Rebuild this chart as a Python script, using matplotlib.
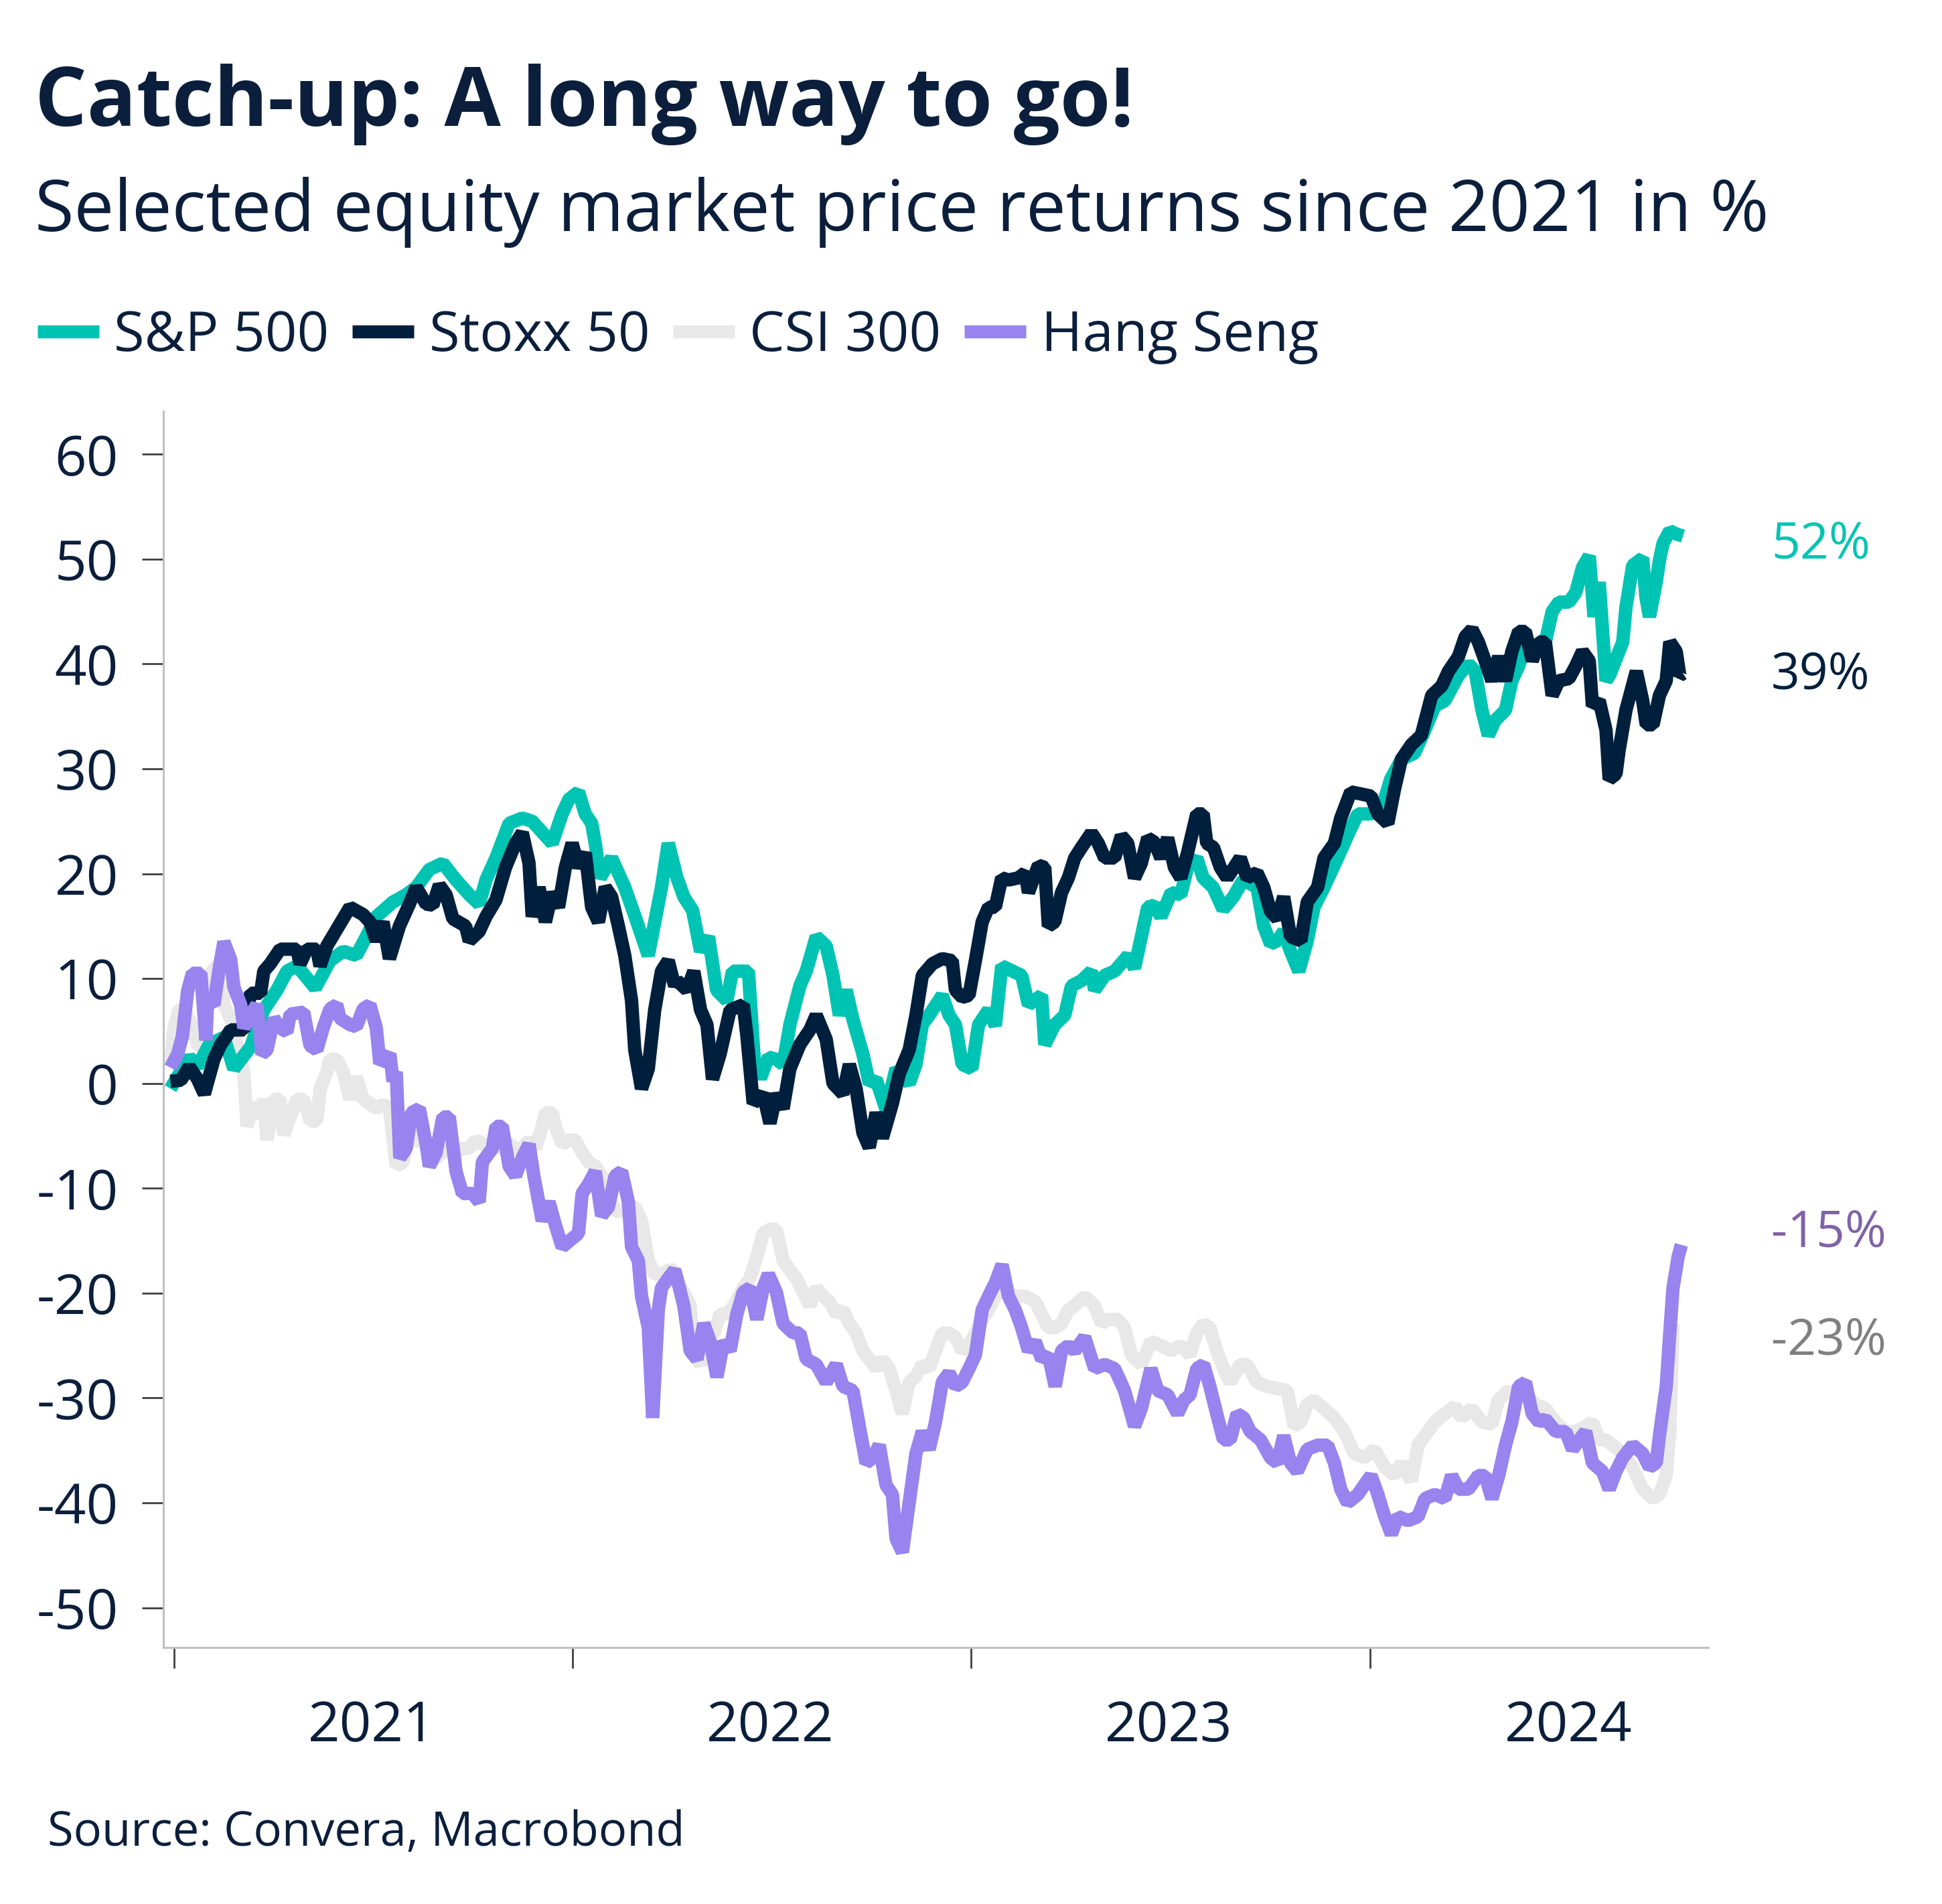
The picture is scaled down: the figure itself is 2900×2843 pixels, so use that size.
import numpy as np
import pandas as pd
import matplotlib
matplotlib.use('Agg')
import matplotlib.pyplot as plt
import matplotlib.dates as mdates
from matplotlib.lines import Line2D

plt.rcParams['font.family'] = ['Open Sans', 'DejaVu Sans']
plt.rcParams['axes.unicode_minus'] = False

navy = '#001F3D'
teal = '#00C4B3'
grey = '#E8E8E8'
purple = '#9784EE'
text_c = '#0B1F3C'

# values: time in years since 1 Jan 2021, return in %
spx_t = [-0.009, 0.038, 0.059, 0.088, 0.125, 0.15, 0.192, 0.225, 0.258, 0.283, 0.308, 0.354,
         0.391, 0.424, 0.457, 0.482, 0.507, 0.549, 0.582, 0.607, 0.64, 0.674, 0.707, 0.74,
         0.765, 0.782, 0.807, 0.84, 0.873, 0.898, 0.948, 0.973, 0.99, 1.014, 1.031, 1.047,
         1.056, 1.068, 1.097, 1.13, 1.156, 1.189, 1.222, 1.239, 1.261, 1.278, 1.3, 1.32,
         1.34, 1.36, 1.386, 1.40, 1.44, 1.455, 1.47, 1.49, 1.51, 1.527, 1.544, 1.569,
         1.585, 1.61, 1.635, 1.652, 1.668, 1.685, 1.702, 1.727, 1.743, 1.76, 1.785, 1.81,
         1.843, 1.86, 1.876, 1.893, 1.926, 1.943, 1.959, 1.976, 2.0, 2.017, 2.042, 2.059,
         2.075, 2.125, 2.142, 2.175, 2.183, 2.208, 2.233, 2.25, 2.275, 2.3, 2.308, 2.333,
         2.358, 2.392, 2.408, 2.425, 2.441, 2.458, 2.474, 2.5, 2.524, 2.541, 2.564, 2.58,
         2.605, 2.63, 2.656, 2.68, 2.715, 2.732, 2.749, 2.766, 2.782, 2.799, 2.82, 2.841,
         2.858, 2.883, 2.917, 2.95, 2.968, 3.001, 3.018, 3.035, 3.05, 3.077, 3.11, 3.136,
         3.161, 3.186, 3.22, 3.245, 3.262, 3.279, 3.295, 3.312, 3.338, 3.354, 3.371, 3.388,
         3.413, 3.438, 3.455, 3.472, 3.497, 3.514, 3.531, 3.548, 3.56, 3.573, 3.59, 3.60,
         3.632, 3.64, 3.657, 3.682, 3.69, 3.699, 3.716, 3.724, 3.733, 3.75, 3.766, 3.783]
spx_v = [-0.5, 2.5, 1.6, 3.7, 4.4, 1.4, 3.5, 7.0, 8.9, 10.7, 11.2, 9.1,
         11.7, 12.6, 12.2, 14.0, 15.9, 17.3, 18.0, 18.7, 20.4, 21.0, 19.4, 18.0,
         17.1, 19.4, 21.5, 24.8, 25.3, 25.0, 22.9, 25.7, 27.1, 27.8, 25.7, 24.8,
         22.9, 19.6, 21.5, 18.7, 15.9, 12.2, 18.7, 22.9, 19.6, 17.8, 16.5, 12.6,
         14.0, 8.9, 7.9, 10.7, 10.7, 2.0, 0.5, 2.5, 2.3, 1.8, 5.6, 9.3,
         10.7, 14.0, 13.1, 10.3, 6.5, 8.9, 6.1, 2.8, 0.0, 0.4, -2.5, 1.4,
         0.0, 1.8, 5.6, 6.5, 8.4, 6.5, 5.6, 1.8, 1.4, 5.6, 7.0, 5.5,
         11.2, 10.3, 7.5, 8.4, 3.7, 5.6, 6.5, 9.3, 9.8, 10.7, 8.9, 10.3,
         10.7, 12.2, 11.0, 14.0, 16.8, 17.0, 15.9, 18.2, 18.0, 20.6, 21.5, 19.6,
         18.7, 16.6, 17.8, 19.4, 18.7, 15.0, 13.3, 13.6, 14.5, 12.6, 10.7, 13.6,
         16.8, 18.7, 21.5, 24.3, 25.7, 25.7, 26.2, 27.1, 29.0, 30.9, 31.5, 33.7,
         36.0, 36.5, 38.9, 40.0, 39.3, 35.6, 33.2, 34.6, 35.6, 38.4, 39.8, 41.7,
         41.7, 42.1, 45.0, 45.9, 45.9, 46.8, 49.2, 50.3, 44.5, 47.8, 38.4, 39.0,
         42.1, 45.4, 49.4, 50.1, 46.4, 44.5, 47.8, 49.9, 51.5, 52.7, 52.4, 52.2]

sx5e_t = [-0.009, 0.017, 0.038, 0.059, 0.076, 0.1, 0.117, 0.13, 0.142, 0.175, 0.192, 0.217,
          0.225, 0.241, 0.266, 0.308, 0.316, 0.333, 0.358, 0.366, 0.383, 0.408, 0.441, 0.474,
          0.491, 0.507, 0.524, 0.54, 0.565, 0.59, 0.607, 0.632, 0.649, 0.665, 0.682, 0.699,
          0.731, 0.74, 0.765, 0.782, 0.807, 0.831, 0.856, 0.873, 0.89, 0.898, 0.915, 0.931,
          0.948, 0.964, 0.981, 0.998, 1.014, 1.031, 1.047, 1.064, 1.081, 1.097, 1.114, 1.13,
          1.147, 1.155, 1.172, 1.189, 1.205, 1.222, 1.239, 1.255, 1.261, 1.286, 1.303, 1.32,
          1.336, 1.35, 1.369, 1.394, 1.427, 1.436, 1.452, 1.477, 1.494, 1.51, 1.527, 1.544,
          1.569, 1.594, 1.61, 1.635, 1.652, 1.677, 1.693, 1.71, 1.727, 1.743, 1.76, 1.776,
          1.801, 1.818, 1.843, 1.86, 1.876, 1.901, 1.926, 1.951, 1.959, 1.976, 1.993, 2.009,
          2.026, 2.042, 2.059, 2.075, 2.092, 2.117, 2.134, 2.142, 2.167, 2.183, 2.192, 2.208,
          2.225, 2.242, 2.258, 2.275, 2.3, 2.317, 2.333, 2.358, 2.375, 2.391, 2.408, 2.425,
          2.441, 2.458, 2.474, 2.491, 2.508, 2.524, 2.541, 2.564, 2.58, 2.589, 2.606, 2.623,
          2.64, 2.656, 2.673, 2.69, 2.715, 2.732, 2.749, 2.766, 2.782, 2.799, 2.825, 2.841,
          2.867, 2.883, 2.909, 2.925, 2.95, 2.976, 3.001, 3.018, 3.043, 3.06, 3.077, 3.102,
          3.127, 3.153, 3.178, 3.195, 3.22, 3.237, 3.254, 3.27, 3.287, 3.304, 3.321, 3.338,
          3.354, 3.371, 3.388, 3.405, 3.422, 3.438, 3.455, 3.472, 3.497, 3.514, 3.531, 3.548,
          3.556, 3.573, 3.59, 3.598, 3.615, 3.623, 3.64, 3.666, 3.682, 3.691, 3.708, 3.724,
          3.741, 3.75, 3.766, 3.775, 3.783]
sx5e_v = [0.2, 0.3, 1.6, 0.4, -1.0, 2.3, 3.7, 4.4, 5.1, 5.1, 8.6, 8.6,
          10.7, 11.4, 12.8, 12.8, 11.4, 12.8, 12.8, 11.2, 13.1, 14.7, 16.8, 16.1,
          15.4, 13.6, 15.4, 11.9, 15.0, 17.1, 18.7, 17.1, 17.0, 18.9, 18.0, 15.7,
          15.0, 13.6, 14.5, 15.9, 17.5, 20.6, 22.9, 23.9, 21.0, 15.9, 18.7, 15.4,
          18.2, 16.8, 20.6, 22.9, 20.6, 22.0, 16.8, 15.4, 18.7, 17.8, 15.0, 12.2,
          7.9, 3.2, -0.5, 1.4, 7.0, 10.7, 11.7, 9.3, 9.8, 8.9, 10.7, 7.0,
          5.6, 0.4, 2.8, 7.0, 7.5, 4.6, -1.9, -1.0, -3.8, -1.0, -2.4, 1.4,
          3.7, 5.1, 6.5, 4.2, 0.0, -1.0, 1.8, -0.5, -4.7, -6.1, -2.8, -5.2,
          -1.9, 0.9, 3.2, 6.5, 10.3, 11.4, 11.9, 11.7, 8.9, 8.2, 8.4, 11.7,
          15.4, 16.8, 16.8, 19.6, 19.4, 19.6, 20.1, 18.2, 20.8, 20.6, 15.0, 15.4,
          18.2, 19.6, 21.5, 22.5, 23.9, 22.9, 21.5, 21.5, 23.6, 22.9, 19.6, 21.0,
          23.4, 23.0, 21.5, 23.4, 20.6, 19.6, 22.0, 25.7, 25.7, 22.9, 22.5, 20.6,
          19.6, 20.5, 21.5, 19.6, 20.1, 18.7, 16.4, 15.7, 17.8, 14.0, 13.6, 17.3,
          18.7, 21.5, 22.9, 25.3, 27.8, 27.6, 27.4, 25.7, 24.8, 28.1, 30.9, 32.3,
          33.2, 37.0, 37.9, 39.3, 40.7, 42.6, 43.3, 42.1, 40.3, 38.4, 40.7, 38.4,
          41.2, 43.1, 43.1, 40.3, 42.1, 42.1, 37.0, 38.4, 38.6, 39.8, 41.2, 40.3,
          36.0, 36.5, 33.7, 29.0, 29.5, 31.8, 35.6, 39.3, 36.5, 34.2, 34.2, 37.0,
          38.4, 42.1, 41.2, 38.9, 39.1]

csi_t = [-0.009, 0.0, 0.013, 0.025, 0.042, 0.059, 0.075, 0.092, 0.108, 0.121, 0.125, 0.142,
         0.158, 0.175, 0.183, 0.2, 0.216, 0.225, 0.233, 0.25, 0.266, 0.275, 0.291, 0.308,
         0.325, 0.341, 0.358, 0.366, 0.383, 0.391, 0.408, 0.424, 0.441, 0.457, 0.474, 0.491,
         0.507, 0.524, 0.54, 0.557, 0.574, 0.59, 0.607, 0.624, 0.64, 0.657, 0.674, 0.69,
         0.707, 0.723, 0.74, 0.757, 0.773, 0.79, 0.807, 0.823, 0.84, 0.856, 0.873, 0.89,
         0.906, 0.923, 0.931, 0.948, 0.956, 0.973, 0.99, 1.006, 1.023, 1.039, 1.056, 1.072,
         1.089, 1.106, 1.122, 1.139, 1.156, 1.172, 1.189, 1.205, 1.222, 1.239, 1.255, 1.261,
         1.278, 1.294, 1.303, 1.32, 1.336, 1.353, 1.369, 1.386, 1.403, 1.427, 1.444, 1.461,
         1.477, 1.494, 1.51, 1.527, 1.544, 1.56, 1.577, 1.594, 1.61, 1.627, 1.643, 1.66,
         1.677, 1.693, 1.71, 1.727, 1.743, 1.76, 1.776, 1.793, 1.81, 1.826, 1.843, 1.859,
         1.876, 1.893, 1.909, 1.926, 1.943, 1.959, 1.976, 1.993, 2.009, 2.026, 2.042, 2.059,
         2.076, 2.092, 2.109, 2.134, 2.159, 2.175, 2.192, 2.208, 2.225, 2.242, 2.258, 2.283,
         2.308, 2.325, 2.341, 2.366, 2.383, 2.4, 2.425, 2.449, 2.474, 2.5, 2.524, 2.547,
         2.564, 2.581, 2.597, 2.614, 2.631, 2.648, 2.673, 2.69, 2.715, 2.74, 2.766, 2.791,
         2.808, 2.825, 2.841, 2.858, 2.883, 2.909, 2.934, 2.959, 2.984, 3.01, 3.035, 3.06,
         3.077, 3.102, 3.119, 3.136, 3.161, 3.186, 3.211, 3.228, 3.253, 3.279, 3.304, 3.32,
         3.346, 3.363, 3.388, 3.413, 3.438, 3.464, 3.489, 3.514, 3.539, 3.556, 3.573, 3.59,
         3.607, 3.632, 3.657, 3.682, 3.708, 3.724, 3.741, 3.75, 3.758]
csi_v = [1.9, 5.3, 7.1, 7.1, 5.8, 3.6, 3.6, 10.5, 11.3, 11.3, 7.5, 6.2,
         3.6, 1.1, -4.1, -1.9, -3.2, -1.5, -5.4, -1.5, -1.5, -4.9, -3.2, -1.5,
         -1.5, -3.6, -3.6, -0.6, 1.1, 2.3, 2.3, 1.1, -1.5, 0.6, -1.5, -1.9,
         -2.4, -2.0, -2.4, -7.9, -7.5, -4.1, -5.8, -4.9, -5.8, -7.1, -6.6, -6.2,
         -6.6, -6.2, -6.2, -5.4, -5.8, -5.8, -6.2, -5.8, -5.8, -6.2, -6.2, -5.4,
         -6.2, -4.1, -2.8, -2.8, -4.1, -5.8, -5.4, -5.4, -6.6, -7.5, -7.9, -8.8,
         -10.5, -12.2, -12.2, -11.8, -11.8, -13.1, -16.9, -18.2, -18.2, -17.8, -17.8, -19.0,
         -19.9, -21.2, -25.9, -26.8, -24.6, -23.8, -22.0, -22.0, -21.2, -19.5, -18.6, -16.5,
         -14.3, -13.9, -13.9, -16.9, -17.8, -18.6, -19.9, -21.2, -19.5, -20.3, -20.8, -22.0,
         -21.6, -22.9, -23.8, -25.5, -26.3, -27.2, -26.3, -27.2, -29.3, -31.5, -28.5, -28.0,
         -26.8, -27.2, -25.5, -23.8, -23.8, -24.2, -25.5, -25.0, -23.8, -22.5, -21.6, -20.3,
         -19.5, -19.9, -20.3, -20.3, -20.8, -22.0, -23.3, -23.3, -22.9, -21.6, -21.2, -20.3,
         -21.2, -22.9, -22.5, -22.5, -23.3, -25.9, -26.8, -24.6, -25.0, -25.5, -25.0, -25.9,
         -23.8, -22.9, -23.3, -25.5, -27.2, -28.5, -26.8, -26.8, -28.5, -28.9, -29.1, -29.3,
         -32.7, -32.3, -30.6, -30.2, -31.0, -31.9, -33.2, -35.3, -35.7, -34.9, -36.6, -37.4,
         -36.2, -37.9, -34.5, -33.6, -32.3, -31.5, -30.8, -31.9, -31.0, -32.3, -32.5, -30.2,
         -29.3, -29.7, -29.7, -30.6, -31.0, -32.3, -33.2, -33.2, -32.7, -32.3, -34.0, -34.0,
         -34.5, -35.3, -36.6, -38.7, -39.6, -39.2, -37.4, -33.2, -23.0]

hsi_t = [-0.009, 0.009, 0.021, 0.034, 0.046, 0.067, 0.08, 0.084, 0.1, 0.113, 0.125, 0.142,
         0.15, 0.167, 0.175, 0.192, 0.208, 0.22, 0.233, 0.25, 0.266, 0.283, 0.291, 0.325,
         0.341, 0.358, 0.374, 0.391, 0.408, 0.416, 0.441, 0.457, 0.474, 0.491, 0.507, 0.516,
         0.541, 0.549, 0.557, 0.566, 0.582, 0.595, 0.615, 0.632, 0.64, 0.657, 0.674, 0.69,
         0.707, 0.723, 0.748, 0.765, 0.773, 0.798, 0.807, 0.823, 0.84, 0.856, 0.873, 0.89,
         0.902, 0.923, 0.94, 0.956, 0.973, 0.998, 1.014, 1.023, 1.039, 1.056, 1.072, 1.089,
         1.106, 1.122, 1.139, 1.147, 1.164, 1.172, 1.189, 1.2, 1.214, 1.222, 1.239, 1.255,
         1.261, 1.278, 1.294, 1.311, 1.328, 1.344, 1.361, 1.378, 1.394, 1.411, 1.427, 1.444,
         1.461, 1.477, 1.49, 1.51, 1.527, 1.552, 1.569, 1.585, 1.61, 1.635, 1.66, 1.677,
         1.702, 1.718, 1.735, 1.752, 1.768, 1.785, 1.801, 1.81, 1.826, 1.843, 1.86, 1.876,
         1.893, 1.909, 1.926, 1.943, 1.959, 1.976, 1.993, 2.009, 2.026, 2.042, 2.059, 2.076,
         2.092, 2.109, 2.125, 2.142, 2.159, 2.175, 2.192, 2.209, 2.225, 2.242, 2.258, 2.283,
         2.308, 2.333, 2.358, 2.383, 2.408, 2.425, 2.449, 2.466, 2.491, 2.516, 2.532, 2.547,
         2.564, 2.581, 2.597, 2.614, 2.631, 2.648, 2.665, 2.682, 2.698, 2.724, 2.749, 2.766,
         2.782, 2.799, 2.816, 2.841, 2.867, 2.892, 2.909, 2.925, 2.942, 2.968, 2.984, 3.001,
         3.018, 3.035, 3.052, 3.068, 3.094, 3.119, 3.136, 3.161, 3.186, 3.203, 3.22, 3.245,
         3.27, 3.287, 3.304, 3.321, 3.338, 3.354, 3.371, 3.388, 3.405, 3.422, 3.438, 3.464,
         3.489, 3.506, 3.523, 3.539, 3.556, 3.581, 3.598, 3.615, 3.632, 3.657, 3.682, 3.699,
         3.716, 3.724, 3.741, 3.75, 3.758, 3.771, 3.779]
hsi_v = [1.5, 2.8, 4.5, 8.8, 10.5, 10.5, 4.1, 7.9, 7.5, 10.9, 13.5, 11.8,
         9.2, 7.5, 5.3, 6.6, 7.5, 2.8, 3.2, 6.2, 5.3, 4.9, 6.6, 6.8,
         3.6, 3.2, 5.3, 7.1, 7.5, 6.2, 5.6, 5.4, 7.1, 7.5, 5.3, 1.9,
         2.8, 0.2, 1.1, -7.1, -6.2, -2.8, -2.4, -5.8, -7.9, -6.6, -3.2, -3.2,
         -8.4, -10.5, -10.5, -11.3, -7.5, -6.2, -4.1, -4.1, -7.9, -8.8, -7.1, -5.8,
         -8.8, -13.1, -11.3, -13.5, -15.6, -14.8, -14.3, -10.5, -9.6, -8.4, -12.6, -11.8,
         -8.8, -8.4, -11.3, -15.6, -16.9, -20.3, -23.3, -31.9, -21.6, -19.5, -18.6, -17.8,
         -18.6, -21.2, -25.5, -26.3, -22.9, -24.6, -28.0, -24.6, -25.5, -22.0, -19.9, -19.5,
         -22.5, -19.5, -18.2, -19.9, -22.9, -23.8, -23.8, -26.3, -26.8, -28.5, -26.8, -28.9,
         -29.3, -32.7, -36.2, -35.7, -34.5, -38.3, -39.2, -43.4, -44.7, -40.0, -35.3, -33.2,
         -34.9, -32.3, -28.5, -27.6, -28.9, -28.5, -27.2, -25.9, -21.6, -20.3, -19.0, -17.3,
         -20.3, -21.6, -23.3, -25.5, -24.6, -26.3, -25.9, -28.9, -25.5, -25.0, -25.5, -24.2,
         -27.2, -26.8, -27.2, -29.3, -32.7, -31.0, -27.2, -29.3, -29.7, -31.5, -30.2, -29.7,
         -27.2, -26.8, -28.9, -31.5, -34.0, -34.0, -31.5, -31.9, -33.2, -34.0, -35.7, -36.2,
         -33.6, -36.2, -37.0, -34.9, -34.5, -34.5, -36.2, -38.7, -40.0, -39.2, -38.3, -37.4,
         -39.2, -41.3, -43.0, -41.3, -41.7, -41.3, -39.6, -39.2, -39.6, -37.4, -38.7, -38.7,
         -37.4, -37.4, -39.6, -37.4, -34.5, -32.3, -28.9, -28.5, -31.5, -32.3, -32.0, -33.2,
         -33.2, -34.9, -34.0, -33.2, -36.2, -37.0, -38.7, -37.0, -35.7, -34.5, -35.3, -36.6,
         -36.2, -33.6, -28.9, -23.8, -19.5, -16.5, -15.4]

names = ['S&P 500', 'Stoxx 50', 'CSI 300', 'Hang Seng']
end_labels = ['52%', '39%', '-23%', '-15%']


def to_dates(t):
    return pd.Timestamp('2021-01-01') + pd.to_timedelta(np.array(t) * 365.25, unit='D')


fig = plt.figure(figsize=(14.5, 14.215), dpi=200)
ax = fig.add_axes([0.084, 0.1347, 0.7957, 0.6493])

lw = 7.2
style = dict(lw=lw, solid_joinstyle='bevel', solid_capstyle='butt')
ax.plot(to_dates(csi_t), csi_v, color=grey, zorder=2, **style)
ax.plot(to_dates(spx_t), spx_v, color=teal, zorder=3, **style)
ax.plot(to_dates(sx5e_t), sx5e_v, color=navy, zorder=4, **style)
ax.plot(to_dates(hsi_t), hsi_v, color=purple, zorder=5, **style)

ax.set_ylim(-53.8, 64.1)
ax.set_xlim(pd.Timestamp('2020-12-22'), pd.Timestamp('2024-11-06'))
ax.set_yticks(np.arange(-50, 61, 10))

ax.xaxis.set_major_locator(mdates.YearLocator())
ax.xaxis.set_major_formatter(plt.NullFormatter())
ax.xaxis.set_minor_locator(mdates.MonthLocator(bymonth=7))
ax.xaxis.set_minor_formatter(mdates.DateFormatter('%Y'))

ax.tick_params(axis='y', length=11.5, width=1.0, color='#404040', pad=12.5,
               labelsize=30, labelcolor=text_c)
ax.tick_params(axis='x', which='major', length=11.2, width=1.0, color='#404040')
ax.tick_params(axis='x', which='minor', length=0, pad=28, labelsize=30,
               labelcolor=text_c)

for s in ['top', 'right']:
    ax.spines[s].set_visible(False)
for s in ['left', 'bottom']:
    ax.spines[s].set_color('#C0C0C0')
    ax.spines[s].set_linewidth(1.1)

# end-of-series labels
label_y = [51.3, 38.9, -24.6, -14.3]
label_c = [teal, navy, '#808080', '#7F62A8']
for txt, y, c in zip(end_labels, label_y, label_c):
    ax.text(1.0407, y, txt, transform=ax.get_yaxis_transform(), color=c,
            fontsize=27, va='center', ha='left', clip_on=False)

handles = [Line2D([], [], color=c, lw=7.0, solid_capstyle='butt')
           for c in [teal, navy, grey, purple]]
fig.legend(handles, names, loc='center left', bbox_to_anchor=(0.0193, 0.823),
           ncol=4, frameon=False, handlelength=1.1, handletextpad=0.27,
           columnspacing=0.42, borderaxespad=0, borderpad=0, fontsize=30,
           labelcolor=text_c)

fig.text(0.0179, 0.9339, 'Catch-up: A long way to go!', fontsize=44,
         fontweight='bold', color=text_c, va='baseline')
fig.text(0.0179, 0.8787, 'Selected equity market price returns since 2021 in %',
         fontsize=38.3, color=text_c, va='baseline')
fig.text(0.0245, 0.0306, 'Source: Convera, Macrobond', fontsize=25.4,
         color=text_c, va='baseline')

fig.savefig('out.png', dpi=200)
